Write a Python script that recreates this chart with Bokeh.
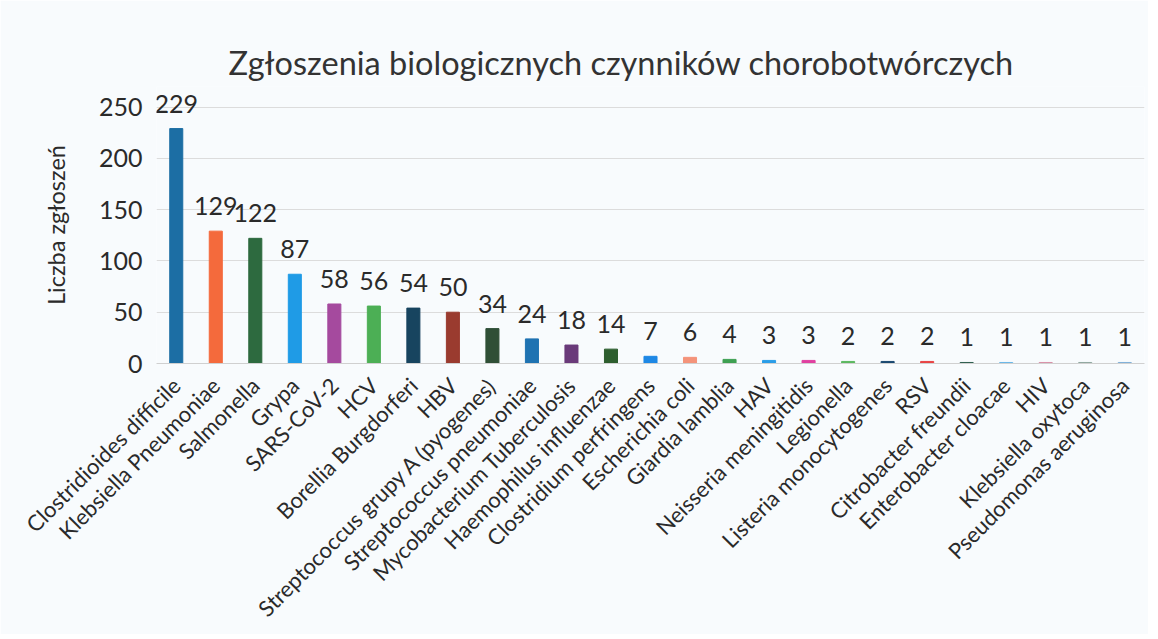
import math
from bokeh.plotting import figure
from bokeh.models import ColumnDataSource, FixedTicker
from bokeh.embed import file_html
from bokeh.resources import INLINE
from bokeh.core.properties import value

categories = ["Clostridioides difficile", "Klebsiella Pneumoniae", "Salmonella", "Grypa",
              "SARS-CoV-2", "HCV", "Borellia Burgdorferi", "HBV",
              "Streptococcus grupy A (pyogenes)", "Streptococcus pneumoniae",
              "Mycobacterium Tuberculosis", "Haemophilus influenzae", "Clostridium perfringens",
              "Escherichia coli", "Giardia lamblia", "HAV", "Neisseria meningitidis",
              "Legionella", "Listeria monocytogenes", "RSV", "Citrobacter freundii",
              "Enterobacter cloacae", "HIV", "Klebsiella oxytoca", "Pseudomonas aeruginosa"]
counts = [229, 129, 122, 87, 58, 56, 54, 50, 34, 24, 18, 14, 7, 6, 4, 3, 3, 2, 2, 2, 1, 1, 1, 1, 1]
colors = ["#1c6ea4", "#f46a3c", "#2d6a3f", "#1f9be6", "#a54a9e", "#4caf55", "#17445f",
          "#9a3b2f", "#2f4f36", "#1f73b2", "#6a3a7a", "#2d5e2e", "#1e88e5", "#f4937a",
          "#3ea052", "#2a9de8", "#e040a0", "#5cb860", "#1a4870", "#e84444", "#2f5f4f",
          "#6ab8e8", "#d890a8", "#90a8a0", "#80b0d8"]
labels = [str(c) for c in counts]
y_ticks = [0, 50, 100, 150, 200, 250]

FONT = "Lato"
src = ColumnDataSource(dict(cat=categories, val=counts, col=colors, lab=labels))

p = figure(x_range=categories, y_range=(0, 270), width=1148, height=634,
           output_backend="svg", toolbar_location=None,
           title="Zgłoszenia biologicznych czynników chorobotwórczych",
           min_border_left=156, min_border_right=4, min_border_top=86, min_border_bottom=268)

p.background_fill_color = "#f8fbfd"
p.border_fill_color = "#f8fbfd"
p.outline_line_color = None

p.title.text_font = FONT
p.title.text_font_size = "32.5px"
p.title.text_font_style = "normal"
p.title.text_color = "#333333"
p.title.align = "left"
p.title.offset = 72

p.vbar(x="cat", top="val", width=0.33, color="col", source=src)
p.text(x="cat", y="val", text="lab", source=src, text_align="center", text_baseline="alphabetic",
       y_offset=-25, text_font=value(FONT), text_font_size="25px", text_color="#2a2a2a")

p.yaxis.ticker = FixedTicker(ticks=y_ticks)
p.yaxis.axis_label = "Liczba zgłoszeń"
p.yaxis.axis_label_text_font = FONT
p.yaxis.axis_label_text_font_size = "23.5px"
p.yaxis.axis_label_text_font_style = "normal"
p.yaxis.axis_label_text_color = "#2a2a2a"
p.yaxis.axis_label_standoff = 26
p.yaxis.major_label_text_font = FONT
p.yaxis.major_label_text_font_size = "25px"
p.yaxis.major_label_text_color = "#2a2a2a"
p.yaxis.axis_line_color = None
p.yaxis.major_tick_line_color = None
p.yaxis.minor_tick_line_color = None
p.yaxis.major_label_standoff = 8

p.xaxis.major_label_orientation = math.pi / 4
p.xaxis.major_label_text_font = FONT
p.xaxis.major_label_text_font_size = "22px"
p.xaxis.major_label_text_color = "#2a2a2a"
p.xaxis.axis_line_color = "#d0d0d0"
p.xaxis.major_tick_line_color = None
p.xaxis.major_label_standoff = 12

p.xgrid.grid_line_color = None
p.ygrid.grid_line_color = "#dcdcdc"
p.ygrid.ticker = FixedTicker(ticks=y_ticks)

open("out.html", "w").write(file_html(p, INLINE))
